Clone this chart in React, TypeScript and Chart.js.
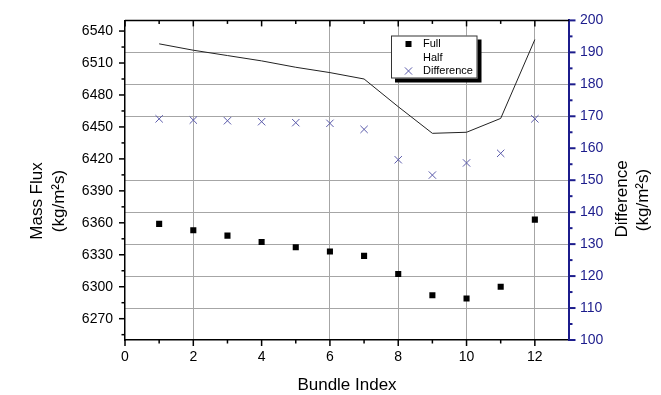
import { useEffect, useRef } from 'react';
import { Chart, registerables } from 'chart.js';

Chart.register(...registerables);

// ---- data ----
const bundleIndex = [1, 2, 3, 4, 5, 6, 7, 8, 9, 10, 11, 12];
const fullFlux = [6359, 6353, 6348, 6342, 6337, 6333, 6329, 6312, 6292, 6289, 6300, 6363];
const halfFlux = [6528, 6522, 6517, 6512, 6506, 6501, 6495, 6469, 6444, 6445, 6458, 6532];
const differenceFlux = [169.2, 168.8, 168.6, 168.3, 168.0, 167.8, 165.9, 156.4, 151.6, 155.4, 158.4, 169.2];

// ---- tick values ----
const xMajorTicks = [0, 2, 4, 6, 8, 10, 12];
const xMinorTicks = [1, 3, 5, 7, 9, 11];
const xGridValues = [2, 6, 8, 10, 12];
const leftMajorTicks = [6270, 6300, 6330, 6360, 6390, 6420, 6450, 6480, 6510, 6540];
const leftMinorTicks = [6255, 6285, 6315, 6345, 6375, 6405, 6435, 6465, 6495, 6525];
const rightMajorTicks = [100, 110, 120, 130, 140, 150, 160, 170, 180, 190, 200];
const rightMinorTicks = [105, 115, 125, 135, 145, 155, 165, 175, 185, 195];
const rightGridValues = [110, 120, 130, 140, 150, 170, 180, 190];

const FONT = '"Liberation Sans", Arial, sans-serif';
const NAVY = '#1c1c8c';
const GRID = '#a6a6a6';
const DIFF_COLOR = '#5a5aaa';

const framePlugin = {
  id: 'frame',
  afterDraw(chart: any) {
    const { ctx, chartArea: a, scales } = chart;
    const sx = scales.x;
    const sy = scales.y;
    const sy1 = scales.y1;
    ctx.save();
    // top border
    ctx.strokeStyle = '#000';
    ctx.lineWidth = 1.5;
    ctx.beginPath();
    ctx.moveTo(a.left, a.top);
    ctx.lineTo(a.right, a.top);
    ctx.stroke();

    const seg = (x1: number, y1: number, x2: number, y2: number) => {
      ctx.beginPath();
      ctx.moveTo(x1, y1);
      ctx.lineTo(x2, y2);
      ctx.stroke();
    };
    ctx.lineWidth = 1.5;
    ctx.strokeStyle = '#000';
    // bottom (outward) and top (inward) ticks
    xMajorTicks.forEach((v) => {
      const p = sx.getPixelForValue(v);
      seg(p, a.bottom, p, a.bottom + 6);
      seg(p, a.top, p, a.top + 6);
    });
    xMinorTicks.forEach((v) => {
      const p = sx.getPixelForValue(v);
      seg(p, a.bottom, p, a.bottom + 3.5);
      seg(p, a.top, p, a.top + 3.5);
    });
    // left ticks
    leftMajorTicks.forEach((v) => {
      const p = sy.getPixelForValue(v);
      seg(a.left - 6, p, a.left, p);
    });
    leftMinorTicks.forEach((v) => {
      const p = sy.getPixelForValue(v);
      seg(a.left - 3.5, p, a.left, p);
    });
    // right ticks
    ctx.strokeStyle = NAVY;
    ctx.lineWidth = 2;
    rightMajorTicks.forEach((v) => {
      const p = sy1.getPixelForValue(v);
      seg(a.right, p, a.right + 6.5, p);
    });
    rightMinorTicks.forEach((v) => {
      const p = sy1.getPixelForValue(v);
      seg(a.right, p, a.right + 3.5, p);
    });

    // axis titles
    ctx.fillStyle = '#000';
    ctx.font = `17px ${FONT}`;
    ctx.textAlign = 'center';
    ctx.textBaseline = 'middle';
    ctx.fillText('Bundle Index', (a.left + a.right) / 2, 385);

    ctx.textBaseline = 'alphabetic';
    const vText = (t: string, x: number, y: number) => {
      ctx.save();
      ctx.translate(x, y);
      ctx.rotate(-Math.PI / 2);
      ctx.fillText(t, 0, 0);
      ctx.restore();
    };
    vText('Mass Flux', 42, 201);
    vText('(kg/m\u00B2s)', 64, 201);
    vText('Difference', 627, 199);
    vText('(kg/m\u00B2s)', 648, 200);

    // legend
    const lx = 391;
    const ly = 35.5;
    const lw = 86.5;
    const lh = 43;
    ctx.fillStyle = '#000';
    ctx.fillRect(lx + 4, ly + 4, lw, lh);
    ctx.fillStyle = '#fff';
    ctx.fillRect(lx, ly, lw, lh);
    ctx.strokeStyle = '#333';
    ctx.lineWidth = 1;
    ctx.strokeRect(lx + 0.5, ly + 0.5, lw - 1, lh - 1);

    const ds = chart.data.datasets;
    const rows = [44, 57.5, 71];
    const mx = 408.5;
    ctx.font = `11px ${FONT}`;
    ctx.textAlign = 'left';
    ctx.textBaseline = 'middle';
    ds.forEach((d: any, i: number) => {
      const ry = rows[i];
      if (d.pointStyle === 'rect' && d.pointRadius > 0) {
        ctx.fillStyle = d.pointBackgroundColor;
        ctx.fillRect(mx - 3, ry - 3, 6, 6);
      } else if (d.pointStyle === 'crossRot' && d.pointRadius > 0) {
        ctx.strokeStyle = d.pointBorderColor;
        ctx.lineWidth = 1;
        seg(mx - 3.6, ry - 3.6, mx + 3.6, ry + 3.6);
        seg(mx + 3.6, ry - 3.6, mx - 3.6, ry + 3.6);
      }
      ctx.fillStyle = '#000';
      ctx.fillText(d.label, 423, ry);
    });
    ctx.restore();
  },
};

export default function App() {
  const ref = useRef<HTMLCanvasElement | null>(null);
  useEffect(() => {
    document.body.style.margin = '0';
    if (!ref.current) return;
    const toPts = (vals: number[]) => bundleIndex.map((x, i) => ({ x, y: vals[i] }));
    const chart = new Chart(ref.current, {
      type: 'line',
      data: {
        datasets: [
          {
            label: 'Full',
            data: toPts(fullFlux),
            yAxisID: 'y',
            showLine: false,
            pointStyle: 'rect',
            pointRadius: 4.3,
            pointBackgroundColor: '#000',
            pointBorderColor: '#000',
            pointBorderWidth: 0,
            borderColor: '#000',
          } as any,
          {
            label: 'Half',
            data: toPts(halfFlux),
            yAxisID: 'y',
            pointRadius: 0,
            borderColor: '#222',
            borderWidth: 1,
            tension: 0,
          } as any,
          {
            label: 'Difference',
            data: toPts(differenceFlux),
            yAxisID: 'y1',
            showLine: false,
            pointStyle: 'crossRot',
            pointRadius: 5.2,
            pointBorderColor: DIFF_COLOR,
            pointBackgroundColor: DIFF_COLOR,
            pointBorderWidth: 1,
            borderColor: DIFF_COLOR,
          } as any,
        ],
      },
      options: {
        animation: false,
        responsive: false,
        events: [],
        layout: { padding: { top: 14, left: 0, right: 0, bottom: 0 } },
        plugins: {
          legend: { display: false },
          tooltip: { enabled: false },
        },
        scales: {
          x: {
            type: 'linear',
            position: 'bottom',
            min: 0,
            max: 13,
            afterBuildTicks: (s: any) => {
              s.ticks = [...xMajorTicks, ...xMinorTicks, 13]
                .sort((p, q) => p - q)
                .map((v) => ({ value: v }));
            },
            afterFit: (s: any) => {
              s.height = 55;
            },
            grid: {
              drawTicks: false,
              lineWidth: 1,
              color: (c: any) => (xGridValues.includes(c.tick?.value) ? GRID : 'rgba(0,0,0,0)'),
            },
            border: { display: true, color: '#000', width: 1.5 },
            ticks: {
              autoSkip: false,
              maxRotation: 0,
              padding: 9,
              color: '#000',
              font: { family: FONT, size: 14 },
              callback: (v: any) => (xMajorTicks.includes(Number(v)) ? String(v) : ''),
            },
          },
          y: {
            type: 'linear',
            position: 'left',
            min: 6250,
            max: 6550,
            afterBuildTicks: (s: any) => {
              s.ticks = leftMajorTicks.map((v) => ({ value: v }));
            },
            afterFit: (s: any) => {
              s.width = 125;
            },
            grid: { display: false, drawTicks: false },
            border: { display: true, color: '#000', width: 1.5 },
            ticks: {
              padding: 12,
              color: '#000',
              font: { family: FONT, size: 14 },
              callback: (v: any) => String(v),
            },
          },
          y1: {
            type: 'linear',
            position: 'right',
            min: 100,
            max: 200,
            afterBuildTicks: (s: any) => {
              s.ticks = rightMajorTicks.map((v) => ({ value: v }));
            },
            afterFit: (s: any) => {
              s.width = 92;
            },
            grid: {
              drawTicks: false,
              drawOnChartArea: true,
              lineWidth: 1,
              color: (c: any) => (rightGridValues.includes(c.tick?.value) ? GRID : 'rgba(0,0,0,0)'),
            },
            border: { display: true, color: NAVY, width: 2 },
            ticks: {
              padding: 11,
              color: NAVY,
              font: { family: FONT, size: 14 },
              callback: (v: any) => String(v),
            },
          },
        },
      } as any,
      plugins: [framePlugin],
    });
    return () => chart.destroy();
  }, []);
  return (
    <div style={{ width: 661, height: 395 }}>
      <canvas ref={ref} width={661} height={395} style={{ display: 'block' }} />
    </div>
  );
}
